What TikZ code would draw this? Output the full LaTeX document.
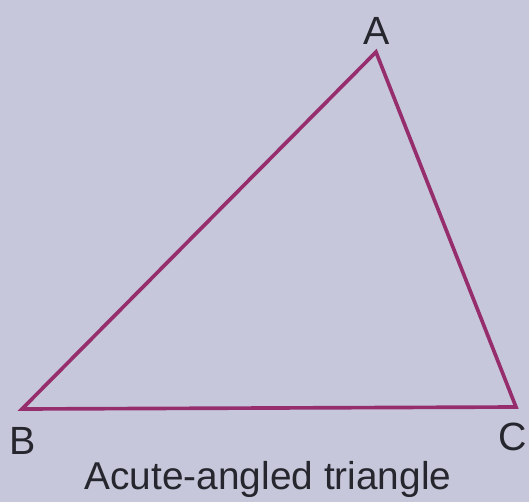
\documentclass[tikz,border=0pt]{standalone}
\usepackage{fontspec}
\setmainfont{Liberation Sans}
\usepackage{tikz}
\definecolor{PAPER}{HTML}{C6C7DA}
\definecolor{EDGE}{HTML}{962E6E}
\definecolor{INK}{HTML}{26262E}
\begin{document}
\begin{tikzpicture}[x=0.025cm,y=-0.025cm]
\tikzset{side/.style={line width=2.6pt,EDGE,line join=miter},
 vlabel/.style={INK,font=\fontsize{28}{28}\selectfont,inner sep=0pt},
 caption/.style={INK,font=\fontsize{27.6}{28}\selectfont,inner sep=0pt}}
\fill[PAPER] (0,0) rectangle (529,502);
\useasboundingbox (0,0) rectangle (529,502);
\coordinate (A) at (376,52);
\coordinate (B) at (22,409);
\coordinate (C) at (516,407);
\draw[side] (A)--(B)--(C)--cycle;
\node[vlabel] (lA) at (377,31) {A};
\node[vlabel] (lB) at (23,441) {B};
\node[vlabel] (lC) at (513,437) {C};
\node[caption] (cap) at (268,479) {Acute-angled triangle};
\end{tikzpicture}
\end{document}
